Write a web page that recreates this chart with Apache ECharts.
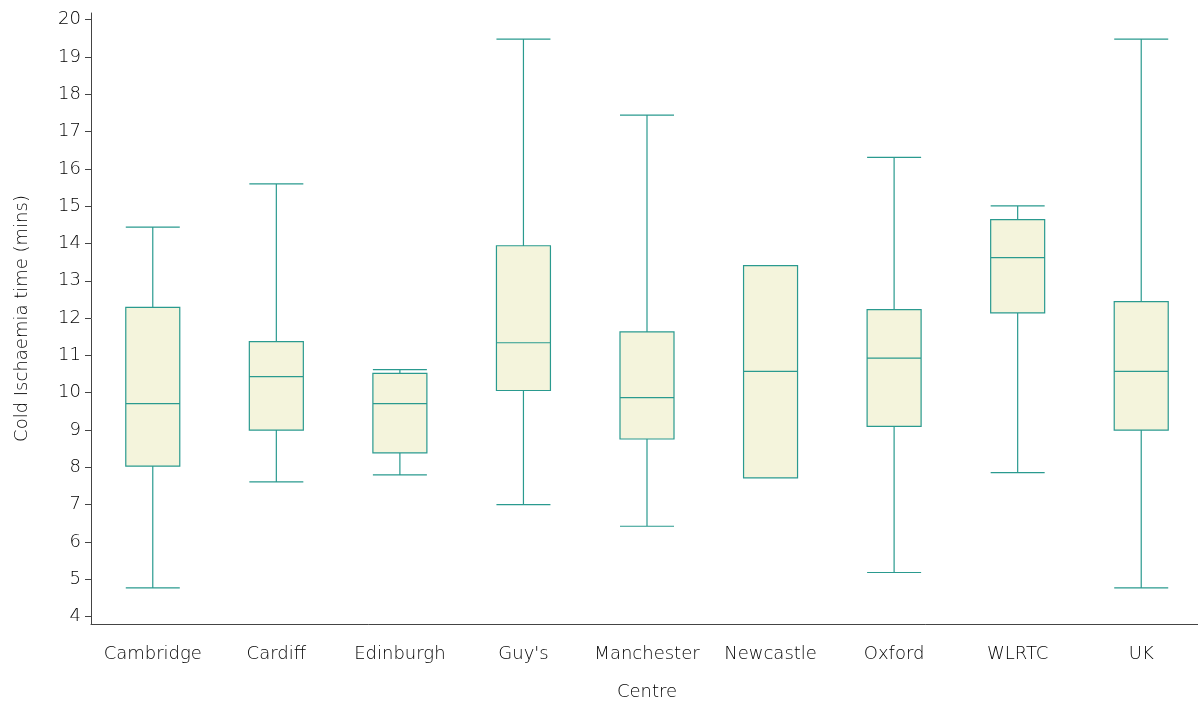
<!DOCTYPE html>
<html>
<head>
<meta charset="utf-8">
<script src="https://cdn.jsdelivr.net/npm/echarts@6/dist/echarts.min.js"></script>
<style>html,body{margin:0;padding:0;background:#fff;overflow:hidden;}#wrap{width:1198px;height:706px;overflow:hidden;position:relative;}#c{position:absolute;left:0;top:0;width:1203px;height:706px;}</style>
</head>
<body>
<div id="wrap"><div id="c"></div></div>
<script>
const categories = ['Cambridge','Cardiff','Edinburgh',"Guy's",'Manchester','Newcastle','Oxford','WLRTC','UK'];
const minVals    = [4.77, 7.61, 7.80, 7.00, 6.42, 7.72, 5.18, 7.86, 4.77];
const q1Vals     = [8.03, 9.00, 8.39, 10.06, 8.76, 7.72, 9.10, 12.14, 9.00];
const medianVals = [9.71, 10.43, 9.71, 11.34, 9.87, 10.57, 10.93, 13.62, 10.57];
const q3Vals     = [12.29, 11.37, 10.52, 13.94, 11.63, 13.41, 12.23, 14.64, 12.44];
const maxVals    = [14.44, 15.60, 10.62, 19.48, 17.44, 13.41, 16.31, 15.01, 19.48];
const yTicks     = [4,5,6,7,8,9,10,11,12,13,14,15,16,17,18,19,20];

const boxData = categories.map((c, i) => [minVals[i], q1Vals[i], medianVals[i], q3Vals[i], maxVals[i]]);
const font = { fontFamily: 'DejaVu Sans', fontWeight: 200, color: '#000' };

const chart = echarts.init(document.getElementById('c'));
chart.setOption({
  animation: false,
  backgroundColor: '#fff',
  grid: { left: 91, top: 13, right: 0, height: 615 },
  xAxis: {
    type: 'category',
    data: categories,
    boundaryGap: true,
    name: 'Centre',
    nameLocation: 'middle',
    nameGap: 59,
    nameTextStyle: Object.assign({ fontSize: 18 }, font),
    axisLine: { lineStyle: { color: '#444', width: 1 } },
    axisTick: { alignWithLabel: true, length: 7, lineStyle: { color: '#444' } },
    axisLabel: Object.assign({ fontSize: 18, margin: 21, interval: 0 }, font),
    splitLine: { show: false }
  },
  yAxis: {
    type: 'value',
    min: 3.80,
    max: 20.18,
    name: 'Cold Ischaemia time (mins)',
    nameLocation: 'middle',
    nameGap: 60,
    nameTextStyle: Object.assign({ fontSize: 18 }, font),
    axisLine: { show: true, lineStyle: { color: '#444', width: 1 } },
    axisTick: { show: true, length: 6, customValues: yTicks, lineStyle: { color: '#444' } },
    axisLabel: Object.assign({ fontSize: 18, margin: 10, customValues: yTicks }, font),
    splitLine: { show: false }
  },
  series: [{
    type: 'boxplot',
    data: boxData,
    boxWidth: [54, 54],
    itemStyle: { color: '#f4f4dc', borderColor: '#2a9a8f', borderWidth: 1.2 },
    emphasis: { disabled: true }
  }]
});
</script>
</body>
</html>
